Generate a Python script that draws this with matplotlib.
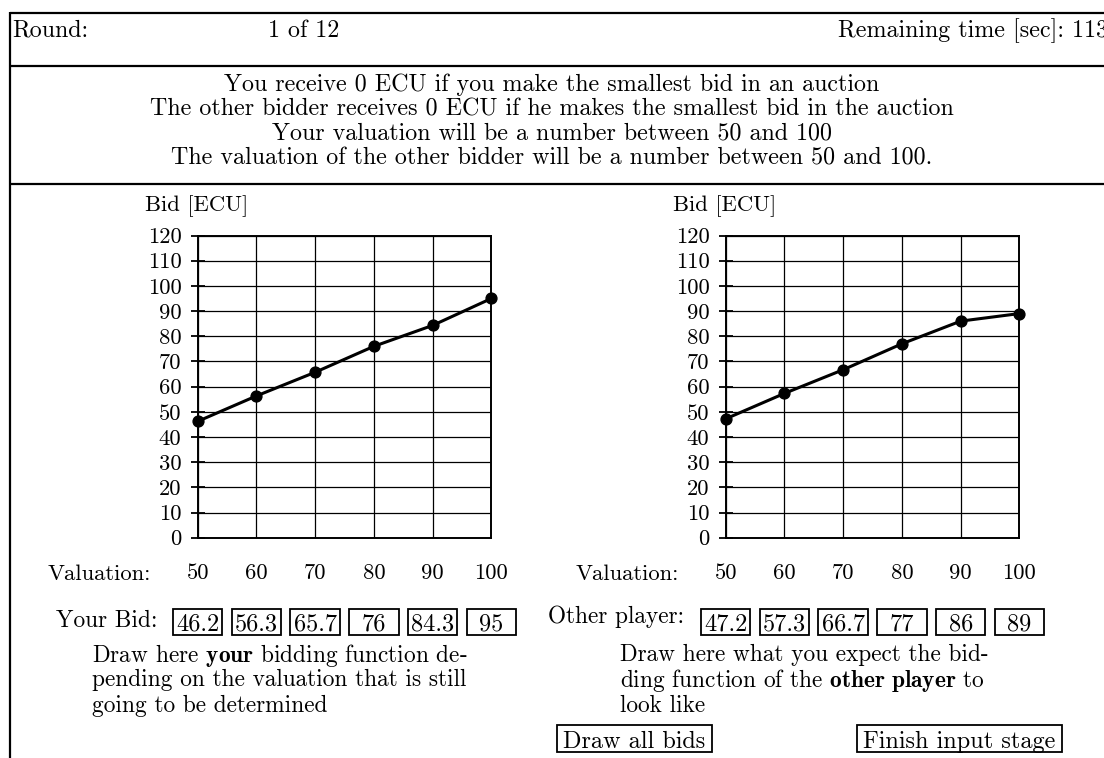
import matplotlib
matplotlib.use("Agg")
import matplotlib.pyplot as plt
from matplotlib.lines import Line2D
from matplotlib.patches import Rectangle
import matplotlib.transforms as mtransforms

# ---------------- data ----------------
valuations = [50, 60, 70, 80, 90, 100]
your_bids = [46.2, 56.3, 65.7, 76, 84.3, 95]
other_bids = [47.2, 57.3, 66.7, 77, 86, 89]
y_ticks = [0, 10, 20, 30, 40, 50, 60, 70, 80, 90, 100, 110, 120]
round_label = "Round:"
round_text = "1 of 12"
time_text = "Remaining time [sec]: 113"
info_lines = [
    "You receive 0 ECU if you make the smallest bid in an auction",
    "The other bidder receives 0 ECU if he makes the smallest bid in the auction",
    "Your valuation will be a number between 50 and 100",
    "The valuation of the other bidder will be a number between 50 and 100.",
]
y_label = "Bid [ECU]"
x_label = "Valuation:"
left_row_label = "Your Bid:"
right_row_label = "Other player:"
left_note = ["Draw here $\\mathbf{your}$ bidding function de-",
             "pending on the valuation that is still",
             "going to be determined"]
right_note = ["Draw here what you expect the bid-",
              "ding function of the $\\mathbf{other\\ player}$ to",
              "look like"]
buttons = ["Draw all bids", "Finish input stage"]

# ---------------- style ----------------
plt.rcParams['font.family'] = ['cmr10']
plt.rcParams['mathtext.fontset'] = 'cm'
plt.rcParams['axes.formatter.use_mathtext'] = True

W, H = 1104, 758
fig = plt.figure(figsize=(W / 100, H / 100), dpi=100)
fig.patch.set_facecolor('white')

def fx(px):
    return px / W

def fy(py):
    return 1 - py / H

FS = 16.3      # chart labels
HFS = 17.3     # header text
NFS = 16.8     # notes below the charts
BFS = 17.5     # values in boxes and buttons

def hline(y, x0, x1, lw=1.6):
    fig.add_artist(Line2D([fx(x0), fx(x1)], [fy(y), fy(y)], transform=fig.transFigure,
                          color='black', lw=lw, solid_capstyle='butt'))

def vline(x, y0, y1, lw=1.6):
    fig.add_artist(Line2D([fx(x), fx(x)], [fy(y0), fy(y1)], transform=fig.transFigure,
                          color='black', lw=lw, solid_capstyle='butt'))

# frame
hline(13, 10, W)
hline(66, 10, W)
hline(184, 10, W)
vline(10, 12, H)

# header
fig.text(fx(12), fy(28), round_label, fontsize=HFS, ha='left', va='center_baseline')
fig.text(fx(268), fy(28), round_text, fontsize=HFS, ha='left', va='center_baseline')
fig.text(fx(838), fy(28), time_text, fontsize=HFS, ha='left', va='center_baseline')
for i, line in enumerate(info_lines):
    fig.text(fx(552), fy(82 + 24.5 * i), line, fontsize=HFS, ha='center', va='center_baseline')

AX_W = 293.7
AX_H = 302.2
AX_BOTTOM = 537.7


def panel(left_px, bids, row_label, row_label_x, row_label_y, note, note_x):
    ax = fig.add_axes([fx(left_px), fy(AX_BOTTOM), AX_W / W, AX_H / H])
    ax.set_xlim(50, 100)
    ax.set_ylim(0, 120)
    ax.set_xticks(valuations)
    ax.set_xticklabels([str(v) for v in valuations])
    ax.set_yticks(y_ticks)
    ax.set_yticklabels([str(v) for v in y_ticks])
    ax.grid(True, color='black', lw=0.9)
    ax.set_axisbelow(True)
    ax.tick_params(axis='x', length=0, pad=18.5, labelsize=FS)
    ax.tick_params(axis='y', direction='inout', length=9.5, width=1.3, pad=7, labelsize=FS)
    for s in ax.spines.values():
        s.set_linewidth(1.4)
        s.set_color('black')
    ax.plot(valuations, bids, color='black', lw=2.2, marker='o', ms=7.8,
            clip_on=False, zorder=5)

    fig.text(fx(left_px - 53), fy(203), y_label, fontsize=FS, ha='left', va='center_baseline')
    fig.text(fx(left_px - 150), fy(572), x_label, fontsize=FS, ha='left', va='center_baseline')

    trans = mtransforms.blended_transform_factory(ax.transData, fig.transFigure)
    half = 4.22
    for v, b in zip(valuations, bids):
        ax.add_patch(Rectangle((v - half, fy(635)), 2 * half, 26 / H, transform=trans,
                               fill=False, ec='black', lw=1.3, clip_on=False))
        ax.text(v, fy(622), f"{b:g}", transform=trans, ha='center', va='center_baseline',
                fontsize=BFS, clip_on=False)
    fig.text(fx(row_label_x), fy(row_label_y), row_label, fontsize=NFS, ha='left',
             va='center_baseline')
    for i, line in enumerate(note):
        fig.text(fx(note_x), fy(652 + 25.5 * i), line, fontsize=NFS, ha='left',
                 va='center_baseline')
    return ax


panel(197.7, your_bids, left_row_label, 56, 618, left_note, 92)
panel(725.7, other_bids, right_row_label, 548, 614, right_note, 620)

# buttons
for label, (x0, x1) in zip(buttons, [(557, 712), (857, 1062)]):
    fig.add_artist(Rectangle((fx(x0), fy(752)), (x1 - x0) / W, 27 / H,
                             transform=fig.transFigure, fill=False, ec='black', lw=1.3))
    fig.text(fx((x0 + x1) / 2), fy(739), label, fontsize=BFS, ha='center',
             va='center_baseline')

fig.savefig("out.png", dpi=100, facecolor='white')
